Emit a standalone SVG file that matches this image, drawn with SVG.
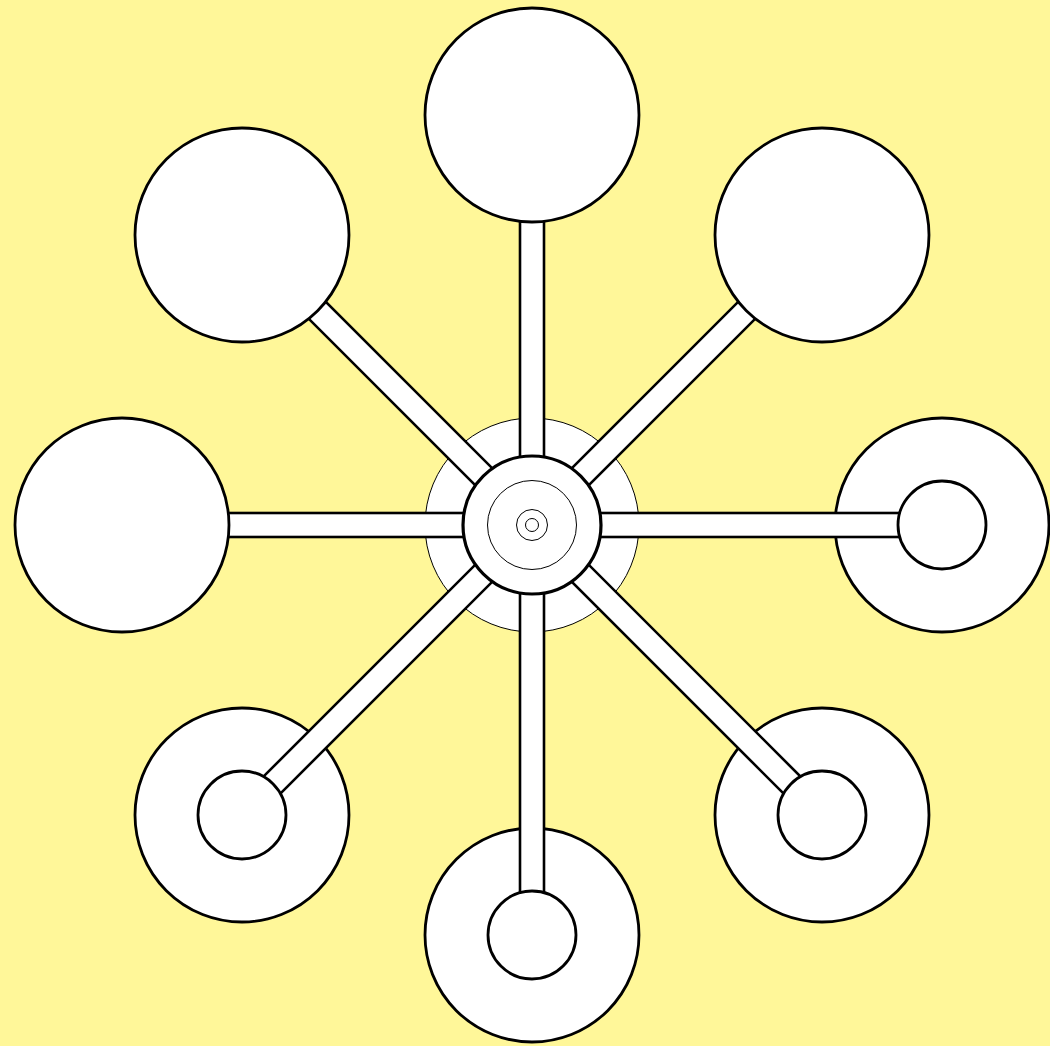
<svg xmlns="http://www.w3.org/2000/svg" width="1050" height="1046" viewBox="0 0 1050 1046">
<style>
.big{fill:#fff;stroke:#000;stroke-width:2.8}
.small{fill:#fff;stroke:#000;stroke-width:2.8}
.spoke{fill:#fff;stroke:#000;stroke-width:2.6}
.thin{fill:#fff;stroke:#000;stroke-width:1}
</style>
<rect width="1050" height="1046" fill="#fff799"/>
<g id="node-right-outer"><circle class="big" cx="942" cy="525" r="107"/></g>
<g id="node-bottomright-outer"><circle class="big" cx="822" cy="815" r="107"/></g>
<g id="node-bottom-outer"><circle class="big" cx="532" cy="935" r="107"/></g>
<g id="node-bottomleft-outer"><circle class="big" cx="242" cy="815" r="107"/></g>
<g id="hub-halo"><circle class="thin" cx="532" cy="525" r="107"/></g>
<g id="connectors">
<rect class="spoke" x="0" y="-12" width="410" height="24" transform="translate(532 525) rotate(-90)"/>
<rect class="spoke" x="0" y="-12" width="410" height="24" transform="translate(532 525) rotate(-45)"/>
<rect class="spoke" x="0" y="-12" width="410" height="24" transform="translate(532 525) rotate(0)"/>
<rect class="spoke" x="0" y="-12" width="410" height="24" transform="translate(532 525) rotate(45)"/>
<rect class="spoke" x="0" y="-12" width="410" height="24" transform="translate(532 525) rotate(90)"/>
<rect class="spoke" x="0" y="-12" width="410" height="24" transform="translate(532 525) rotate(135)"/>
<rect class="spoke" x="0" y="-12" width="410" height="24" transform="translate(532 525) rotate(180)"/>
<rect class="spoke" x="0" y="-12" width="410" height="24" transform="translate(532 525) rotate(225)"/>
</g>
<g id="node-top"><circle class="big" cx="532" cy="115" r="107"/></g>
<g id="node-topright"><circle class="big" cx="822" cy="235" r="107"/></g>
<g id="node-topleft"><circle class="big" cx="242" cy="235" r="107"/></g>
<g id="node-left"><circle class="big" cx="122" cy="525" r="107"/></g>
<g id="node-right-inner"><circle class="small" cx="942" cy="525" r="44"/></g>
<g id="node-bottomright-inner"><circle class="small" cx="822" cy="815" r="44"/></g>
<g id="node-bottom-inner"><circle class="small" cx="532" cy="935" r="44"/></g>
<g id="node-bottomleft-inner"><circle class="small" cx="242" cy="815" r="44"/></g>
<g id="hub">
<circle fill="#fff" stroke="#000" stroke-width="3.2" cx="532" cy="525" r="69"/>
<circle fill="none" stroke="#000" stroke-width="1" cx="532" cy="525" r="44.5"/>
<circle fill="none" stroke="#000" stroke-width="1" cx="532" cy="525" r="15.5"/>
<circle fill="none" stroke="#000" stroke-width="1" cx="532" cy="525" r="6.5"/>
</g>
</svg>
